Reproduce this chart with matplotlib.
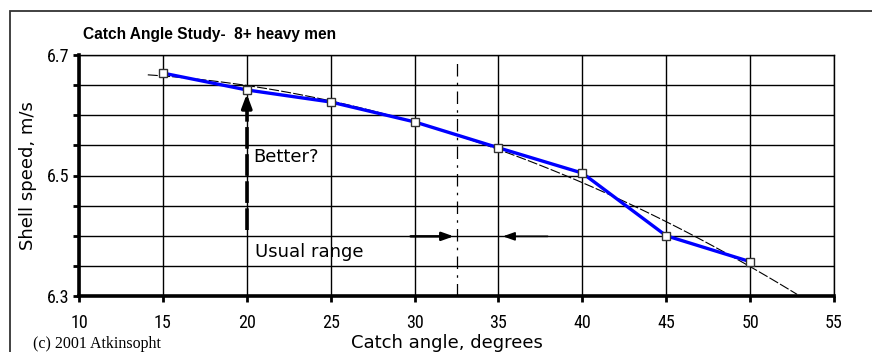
import numpy as np
import matplotlib
matplotlib.use("Agg")
import matplotlib.pyplot as plt
from matplotlib.patches import Rectangle
from matplotlib import font_manager

angles = [15, 20, 25, 30, 35, 40, 45, 50]
speeds = [6.670, 6.642, 6.622, 6.589, 6.546, 6.504, 6.400, 6.357]
x_ticks = [10, 15, 20, 25, 30, 35, 40, 45, 50, 55]
y_ticks = [6.3, 6.35, 6.4, 6.45, 6.5, 6.55, 6.6, 6.65, 6.7]
y_tick_labels = ["6.3", "", "", "", "6.5", "", "", "", "6.7"]
fit_range = [14.1, 52.8]
usual_range = 32.5

names = {f.name for f in font_manager.fontManager.ttflist}
narrow = None
for cand in ["Liberation Sans Narrow", "DejaVu Sans Condensed", "Roboto Condensed", "Open Sans Condensed"]:
    if cand in names:
        narrow = cand
        break

fig = plt.figure(figsize=(8.72, 3.52), dpi=100)
ax = fig.add_axes([79/872, 1-296/352, (834-79)/872, (296-55)/352])

fig.patches.append(Rectangle((10/872, -0.1), 1.2, (352-11)/352 + 0.1, transform=fig.transFigure,
                             fill=False, edgecolor="#333333", linewidth=1.3))

ax.set_xlim(10, 55)
ax.set_ylim(6.3, 6.7)
ax.set_xticks(x_ticks)
ax.set_yticks(y_ticks)
ax.set_yticklabels(y_tick_labels)
ax.grid(True, color="black", linewidth=1.0)
ax.set_axisbelow(True)
for s in ["top", "right"]:
    ax.spines[s].set_linewidth(1.0)
for s in ["left", "bottom"]:
    ax.spines[s].set_linewidth(2.6)
ax.tick_params(axis="both", direction="out", length=4, width=2, color="black")
ax.tick_params(axis="x", pad=9)
ax.tick_params(axis="y", pad=3)
tick_family = [narrow, "DejaVu Sans"] if narrow else ["DejaVu Sans"]
for lab in ax.get_xticklabels() + ax.get_yticklabels():
    lab.set_fontfamily(tick_family)
    lab.set_fontsize(13 if narrow else 11)

coef = np.polyfit(angles, speeds, 2)
xf = np.linspace(fit_range[0], fit_range[1], 100)
ax.plot(xf, np.polyval(coef, xf), color="black", linewidth=0.8, linestyle=(0, (9, 2)), zorder=3)

ax.plot(angles, speeds, color="#0000ff", linewidth=2.4, zorder=4)
ax.plot(angles, speeds, linestyle="none", marker="s", markersize=5.5,
        markerfacecolor="white", markeredgecolor="#333333", markeredgewidth=1.0, zorder=5)

ax.plot([usual_range, usual_range], [6.3, 6.69], color="black", linewidth=0.9,
        linestyle=(0, (10, 5, 2, 5)), zorder=3)

ax.plot([20, 20], [6.41, 6.61], color="black", linewidth=2.6, linestyle=(0, (6, 1.5)), zorder=6)
ax.annotate("", xy=(20, 6.640), xytext=(20, 6.605),
            arrowprops=dict(arrowstyle="-|>,head_length=0.8,head_width=0.3", color="black", lw=2.5),
            zorder=6)
lab_font = "DejaVu Sans"
ax.text(20.4, 6.53, "Better?", fontsize=13, family=lab_font, va="center", ha="left")

ax.annotate("", xy=(usual_range, 6.399), xytext=(29.6, 6.399),
            arrowprops=dict(arrowstyle="-|>,head_length=0.7,head_width=0.25", color="black", lw=1.8))
ax.annotate("", xy=(35.1, 6.399), xytext=(38.1, 6.399),
            arrowprops=dict(arrowstyle="-|>,head_length=0.7,head_width=0.25", color="black", lw=1.2))
ax.text(20.5, 6.373, "Usual range", fontsize=13, family=lab_font, va="center", ha="left")

fig.text(83/872, 1-35/352, "Catch Angle Study-  8+ heavy men", fontsize=11.2, fontweight="bold",
         family="Liberation Sans", va="center", ha="left")
fig.text(28/872, 1-176/352, "Shell speed, m/s", rotation=90, fontsize=13,
         family=lab_font, va="center", ha="center")
fig.text(447/872, 1-343/352, "Catch angle, degrees", fontsize=13,
         family=lab_font, va="center", ha="center")
fig.text(33/872, 1-344/352, "(c) 2001 Atkinsopht", fontsize=11.5,
         family=["Liberation Serif", "DejaVu Serif"], va="center", ha="left")

fig.savefig("out.png", dpi=100)
